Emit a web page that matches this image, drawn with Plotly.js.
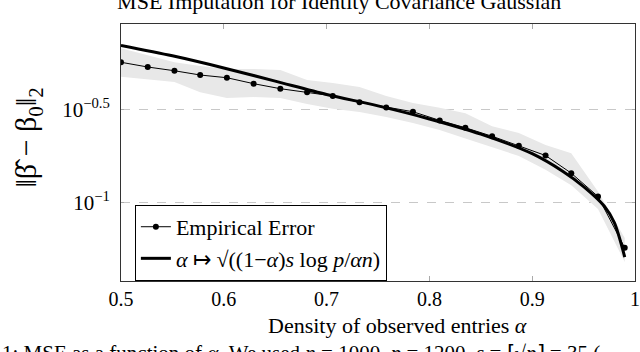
<!DOCTYPE html>
<html>
<head>
<meta charset="utf-8">
<script src="https://cdn.plot.ly/plotly-3.0.1.min.js"></script>
<style>
  html, body { margin: 0; padding: 0; background: #fff; }
  #plot { width: 640px; height: 352px; }
</style>
</head>
<body>
<div id="plot"></div>
<script>
// density of observed entries (x) for the empirical points and the band
let alpha = [0.5, 0.526, 0.552, 0.577, 0.603, 0.629, 0.655, 0.681, 0.706, 0.732,
             0.758, 0.784, 0.81, 0.835, 0.861, 0.887, 0.913, 0.938, 0.964, 0.99]

// empirical error (mean)
let empirical = [0.565, 0.533, 0.509, 0.483, 0.467, 0.434, 0.408, 0.390, 0.373, 0.345,
                 0.324, 0.307, 0.276, 0.252, 0.227, 0.202, 0.179, 0.144, 0.108, 0.0574]

// shaded spread around the empirical error
let bandUpper = [0.671, 0.618, 0.566, 0.539, 0.520, 0.520, 0.513, 0.454, 0.437, 0.416,
                 0.373, 0.342, 0.323, 0.301, 0.257, 0.236, 0.204, 0.184, 0.115, 0.0647]
let bandLower = [0.473, 0.457, 0.443, 0.391, 0.364, 0.368, 0.364, 0.338, 0.319, 0.306,
                 0.288, 0.267, 0.245, 0.221, 0.199, 0.178, 0.150, 0.124, 0.0925, 0.0482]

// theoretical curve
let alphaTheory = [0.5, 0.55, 0.6, 0.65, 0.7, 0.75, 0.8, 0.85, 0.9, 0.93, 0.95, 0.97, 0.98, 0.99]
let theory = [0.696, 0.612, 0.527, 0.448, 0.380, 0.330, 0.281, 0.233, 0.183, 0.147, 0.122, 0.096, 0.078, 0.0512]

// y tick labels
let yTicks = [0.1, 0.31623]
let yTickText = ["10<sup>\u22121</sup>", "10<sup>\u22120.5</sup>"]

let serif = "Liberation Serif"

let lowerTrace = {
  x: alpha, y: bandLower,
  type: "scatter", mode: "lines",
  line: {width: 0, color: "rgba(0,0,0,0)"},
  showlegend: false, hoverinfo: "skip"
}

let upperTrace = {
  x: alpha, y: bandUpper,
  type: "scatter", mode: "lines",
  fill: "tonexty", fillcolor: "#e8e8e8",
  line: {width: 0, color: "rgba(0,0,0,0)"},
  showlegend: false, hoverinfo: "skip"
}

let empiricalTrace = {
  x: alpha, y: empirical,
  type: "scatter", mode: "lines+markers",
  name: "Empirical Error",
  line: {color: "#000", width: 1},
  marker: {color: "#000", size: 6}
}

let theoryTrace = {
  x: alphaTheory, y: theory,
  type: "scatter", mode: "lines",
  name: "<i>\u03b1</i> \u21a6 \u221a((1\u2212<i>\u03b1</i>)<i>s</i> log <i>p</i>/<i>\u03b1n</i>)",
  line: {color: "#000", width: 3, shape: "spline", smoothing: 0.8}
}

let data = [lowerTrace, upperTrace, empiricalTrace, theoryTrace]

let layout = {
  width: 640,
  height: 352,
  margin: {l: 121, r: 5, t: 24, b: 71, pad: 0},
  paper_bgcolor: "#fff",
  plot_bgcolor: "#fff",
  font: {family: serif, size: 22, color: "#000"},
  title: {
    text: "MSE Imputation for Identity Covariance Gaussian",
    font: {family: serif, size: 22, color: "#000"},
    x: 0.53, xanchor: "center",
    y: 0.997, yanchor: "middle"
  },
  xaxis: {
    range: [0.5, 1.0],
    tickvals: [0.5, 0.6, 0.7, 0.8, 0.9, 1.0],
    ticktext: ["0.5", "0.6", "0.7", "0.8", "0.9", "1"],
    ticks: "inside", ticklen: 5, tickcolor: "#aaa",
    showline: true, linecolor: "#333", linewidth: 1, mirror: "ticks",
    showgrid: false, zeroline: false,
    tickfont: {family: serif, size: 20, color: "#000"}
  },
  yaxis: {
    type: "log",
    range: [-1.419, -0.043],
    tickvals: yTicks,
    ticktext: yTickText,
    ticks: "inside", ticklen: 3, tickcolor: "#aaa",
    showline: true, linecolor: "#333", linewidth: 1, mirror: "ticks",
    showgrid: true, gridcolor: "#c8c8c8", griddash: "dash", gridwidth: 1,
    zeroline: false,
    ticklabelstandoff: 6,
    tickfont: {family: serif, size: 21, color: "#000"}
  },
  legend: {
    x: 0.027, y: 0.296, xanchor: "left", yanchor: "top",
    traceorder: "normal",
    bgcolor: "#fff", bordercolor: "#000", borderwidth: 1,
    font: {family: serif, size: 22, color: "#000"},
    tracegroupgap: 0
  },
  annotations: [
    {
      text: "Density of observed entries <i>\u03b1</i>",
      xref: "paper", yref: "paper", x: 0.537, y: -0.172,
      xanchor: "center", yanchor: "middle", showarrow: false,
      font: {family: serif, size: 22, color: "#000"}
    },
    {
      text: "\u2016\u03b2\u0302 \u2212 \u03b2<sub>0</sub>\u2016<sub>2</sub>",
      xref: "paper", yref: "paper", x: -0.18, y: 0.56,
      xanchor: "center", yanchor: "middle", showarrow: false, textangle: -90,
      font: {family: serif, size: 30, color: "#000"}
    },
    {
      text: "1: MSE as a function of <i>\u03b1</i>. We used <i>n</i> = 1000, <i>p</i> = 1200, <i>s</i> = \u2308\u221a<i>p</i>\u2309 = 35 (",
      xref: "paper", yref: "paper", x: -0.2363, y: -0.28,
      xanchor: "left", yanchor: "middle", showarrow: false,
      font: {family: serif, size: 21, color: "#000"}
    }
  ]
}

Plotly.newPlot("plot", data, layout, {displayModeBar: false, staticPlot: true})
</script>
</body>
</html>
